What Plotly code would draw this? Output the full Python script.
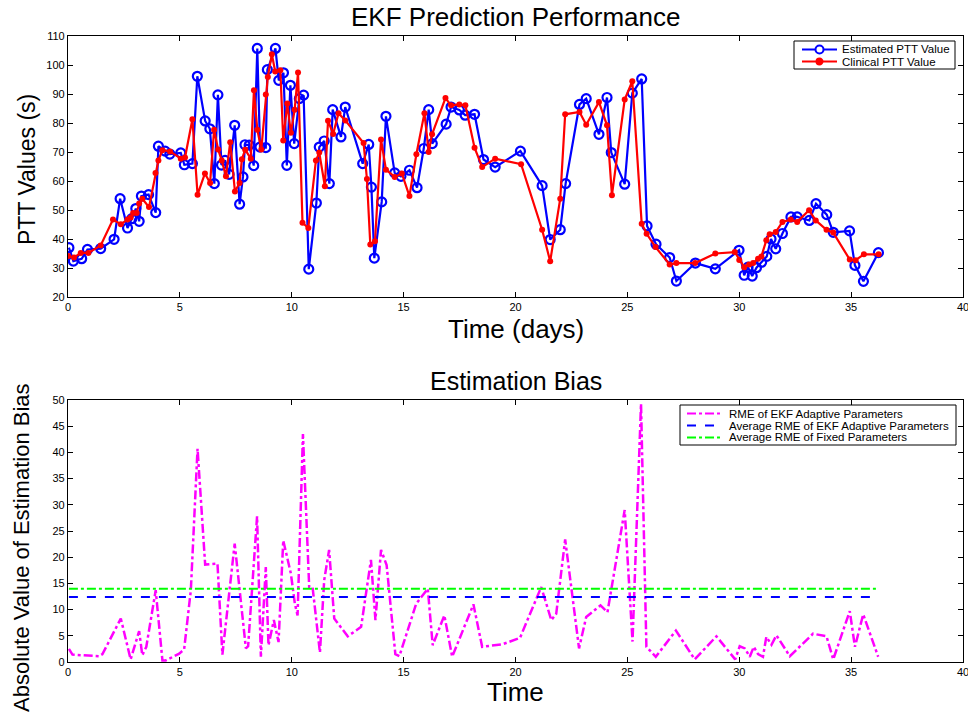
import plotly.graph_objects as go

# --- PTT estimates from the adaptive EKF (days, seconds) ---
est_time = [0.04, 0.24, 0.61, 0.87, 1.46, 2.06, 2.33, 2.66, 2.85, 3.03, 3.18, 3.28, 3.6, 3.92,
            4.04, 4.34, 4.55, 5.04, 5.2, 5.56, 5.78, 6.13, 6.34, 6.54, 6.7, 6.86, 7.02, 7.2,
            7.45, 7.67, 7.82, 7.91, 8.1, 8.3, 8.46, 8.58, 8.84, 8.91, 9.27, 9.42, 9.63, 9.78,
            9.94, 10.11, 10.34, 10.53, 10.76, 11.1, 11.23, 11.45, 11.68, 11.83, 12.2, 12.39,
            13.17, 13.44, 13.56, 13.69, 14.02, 14.21, 14.6, 14.88, 15.26, 15.6, 15.9, 16.12,
            16.28, 16.9, 17.12, 17.49, 17.75, 18.17, 18.57, 19.09, 20.22, 21.19, 21.55, 22.0,
            22.24, 22.86, 23.16, 23.73, 24.09, 24.28, 24.88, 25.22, 25.64, 25.88, 26.28, 26.89,
            27.19, 28.04, 28.93, 29.99, 30.22, 30.39, 30.58, 30.77, 31.0, 31.23, 31.42, 31.63,
            31.93, 32.31, 32.59, 33.13, 33.43, 33.91, 34.2, 34.93, 35.17, 35.55, 36.22]
est_ptt = [37.0, 32.4, 33.2, 36.4, 36.7, 39.9, 53.9, 43.8, 47.0, 50.5, 46.1, 54.8, 55.3, 49.1,
           72.0, 70.3, 69.3, 69.7, 65.6, 66.0, 96.1, 80.7, 78.0, 59.1, 89.7, 65.5, 67.1, 62.3,
           79.2, 52.0, 61.4, 72.5, 72.4, 65.3, 105.7, 71.7, 71.5, 98.4, 105.7, 94.7, 97.3, 65.4,
           93.0, 72.9, 88.4, 89.6, 29.6, 52.4, 71.7, 73.8, 59.1, 84.6, 75.2, 85.5,
           66.0, 72.6, 57.9, 33.4, 52.8, 82.3, 62.8, 61.6, 63.7, 57.7, 71.2, 84.6,
           72.9, 79.6, 85.5, 84.5, 82.7, 83.0, 67.4, 64.8, 70.3, 58.4, 39.8, 43.2,
           59.1, 86.4, 88.4, 76.1, 88.8, 69.8, 58.9, 90.3, 95.2, 44.5, 38.2, 33.6,
           25.5, 31.7, 29.7, 36.1, 27.5, 30.3, 27.2, 30.1, 32.0, 34.0, 40.0, 36.6,
           41.9, 47.6, 47.6, 46.4, 52.2, 48.4, 42.3, 42.8, 30.9, 25.4, 35.3]

# --- clinically measured PTT ---
clin_time = [0.01, 0.27, 0.57, 0.91, 1.46, 2.01, 2.36, 2.66, 2.8, 2.91, 3.07, 3.18, 3.32, 3.62,
             3.91, 4.04, 4.22, 4.56, 5.04, 5.23, 5.56, 5.79, 6.12, 6.35, 6.53, 6.71, 6.87, 7.06,
             7.25, 7.46, 7.67, 7.77, 7.92, 8.17, 8.31, 8.46, 8.64, 8.84, 8.93, 9.11, 9.26, 9.49,
             9.62, 9.8, 9.96, 10.13, 10.28, 10.48, 10.74, 11.08, 11.23, 11.48, 11.62, 11.85,
             12.09, 12.39, 13.21, 13.36, 13.51, 13.72, 13.99, 14.21, 14.6, 14.92, 15.26, 15.57,
             15.93, 16.12, 16.27, 16.87, 17.12, 17.49, 17.76, 18.17, 18.51, 19.09, 20.25, 21.19,
             21.55, 22.0, 22.22, 22.86, 23.16, 23.73, 24.09, 24.31, 24.88, 25.22, 25.64, 25.86,
             26.26, 26.89, 27.19, 28.03, 28.93, 29.8, 30.0, 30.22, 30.44, 30.62, 30.84, 30.99,
             31.21, 31.36, 31.63, 31.93, 32.3, 32.59, 33.12, 33.42, 33.9, 34.2, 34.94, 35.2,
             35.57, 36.23]
clin_ptt = [34.1, 33.6, 35.2, 35.2, 37.8, 46.7, 45.1, 46.7, 47.4, 49.0, 49.0, 52.2, 53.9, 51.0,
            62.8, 67.1, 70.6, 70.2, 67.7, 68.1, 81.3, 55.3, 62.6, 59.3, 77.7, 70.9, 67.1, 61.6,
            73.4, 56.4, 59.3, 67.5, 70.8, 67.7, 91.3, 77.7, 70.9, 89.8, 95.9, 103.7, 97.8, 98.2,
            74.0, 86.7, 76.6, 84.6, 97.4, 45.6, 43.8, 67.1, 69.8, 58.2, 80.8, 76.2,
            83.4, 80.9, 73.1, 60.7, 38.1, 39.2, 74.3, 63.9, 61.4, 62.6, 54.8, 69.2,
            83.4, 70.0, 76.1, 88.6, 86.1, 86.4, 86.1, 71.5, 64.8, 67.7, 65.8, 43.2,
            32.3, 53.9, 83.0, 83.8, 79.4, 87.2, 79.2, 55.1, 88.1, 94.4, 45.3, 41.8,
            37.2, 31.2, 31.7, 31.7, 35.0, 35.5, 32.8, 30.3, 31.2, 31.7, 33.2, 34.0,
            39.6, 41.6, 42.4, 45.9, 46.7, 45.9, 49.9, 46.4, 43.2, 42.2, 32.9, 32.7,
            34.7, 34.7]

# --- absolute estimation bias of the adaptive EKF ---
bias_time = [0.04, 0.2, 1.39, 1.54, 2.36, 2.8, 3.18, 3.32, 3.5, 3.92, 4.22, 4.37, 4.97, 5.19,
             5.49, 5.79, 6.13, 6.68, 6.9, 7.45, 7.95, 8.05, 8.45, 8.62, 8.84, 8.96, 9.2, 9.41,
             9.62, 9.96, 10.14, 10.26, 10.5, 10.78, 10.93, 11.26, 11.45, 11.67, 11.9, 12.5,
             13.1, 13.54, 13.74, 13.99, 14.24, 14.63, 14.81, 15.56, 16.08, 16.3, 16.82, 17.17,
             18.12, 18.51, 19.43, 20.2, 21.15, 21.6, 21.82, 22.22, 22.84, 23.16, 23.8, 24.11,
             24.88, 25.23, 25.61, 25.85, 26.27, 27.17, 28.01, 28.98, 29.82, 30.02, 30.25, 30.47,
             30.65, 30.84, 31.06, 31.21, 31.44, 31.66, 32.26, 33.3, 33.9, 34.2, 34.94, 35.17,
             35.54, 36.21]
bias_val = [2.5, 1.4, 1.1, 1.5, 8.3, 0.5, 5.9, 1.3, 2.9, 13.7, 0.3, 0.3, 1.6, 2.4,
            13.7, 40.7, 18.6, 18.8, 1.4, 22.6, 2.6, 3.0, 27.8, 1.0, 18.1, 3.2, 8.0, 3.8,
            23.2, 16.9, 11.1, 8.9, 43.5, 14.3, 14.3, 1.8, 15.6, 21.4, 8.3, 4.9,
            6.7, 19.5, 8.0, 21.4, 18.5, 1.5, 1.1, 11.1, 14.0, 3.2, 8.9, 1.0,
            11.0, 2.9, 3.4, 4.6, 14.3, 8.0, 9.2, 23.4, 2.6, 8.6, 10.8, 9.5,
            29.0, 3.9, 49.3, 2.9, 1.0, 6.0, 0.5, 4.9, 0.5, 3.0, 2.6, 1.0,
            2.9, 1.5, 1.0, 4.8, 3.3, 5.1, 1.1, 5.4, 4.9, 0.5, 9.7, 2.9,
            9.1, 1.0]

avg_adaptive = 12.4
avg_fixed = 14.0

FONT = "Liberation Sans, Arial, sans-serif"
W, H = 968, 722
ML, MR, MT, MB = 68, 5, 36, 60
PW, PH = W - ML - MR, H - MT - MB


def px(x):
    """Pixel column -> paper x."""
    return (x - ML) / PW


def py(y):
    """Pixel row -> paper y."""
    return (H - MB - y) / PH


BLUE, RED, MAGENTA, GREEN = "#0000ff", "#ff0000", "#ff00ff", "#00ff00"

fig = go.Figure()

fig.add_trace(go.Scatter(
    x=est_time, y=est_ptt, mode="lines+markers", name="Estimated PTT Value",
    line=dict(color=BLUE, width=2.2),
    marker=dict(symbol="circle-open", size=9, color=BLUE, line=dict(width=2.2)),
    xaxis="x", yaxis="y"))
fig.add_trace(go.Scatter(
    x=clin_time, y=clin_ptt, mode="lines+markers", name="Clinical PTT Value",
    line=dict(color=RED, width=2.2),
    marker=dict(symbol="circle", size=6, color=RED),
    xaxis="x", yaxis="y"))

fig.add_trace(go.Scatter(
    x=bias_time, y=bias_val, mode="lines", name="RME of EKF Adaptive Parameters",
    line=dict(color=MAGENTA, width=2.5, dash="dashdot"),
    xaxis="x2", yaxis="y2"))
fig.add_trace(go.Scatter(
    x=[bias_time[0], bias_time[-1]], y=[avg_adaptive, avg_adaptive], mode="lines",
    name="Average RME of EKF Adaptive Parameters",
    line=dict(color=BLUE, width=2, dash="dash"),
    xaxis="x2", yaxis="y2"))
fig.add_trace(go.Scatter(
    x=[bias_time[0], bias_time[-1]], y=[avg_fixed, avg_fixed], mode="lines",
    name="Average RME of Fixed Parameters",
    line=dict(color=GREEN, width=2, dash="dashdot"),
    xaxis="x2", yaxis="y2"))

axis_common = dict(showline=True, linecolor="black", linewidth=1.2, mirror="ticks",
                   ticks="inside", ticklen=5, tickcolor="black", showgrid=False,
                   zeroline=False, ticklabeloverflow="allow", automargin=False,
                   tickfont=dict(family=FONT, size=11, color="black"))

# Compact boxed legends (MATLAB style), built from shapes and annotations
shapes = []
annotations = []


def legend_box(x0, y0, x1, y1, rows, sample_x0, sample_x1, text_x):
    shapes.append(dict(type="rect", xref="paper", yref="paper",
                       x0=px(x0), x1=px(x1), y0=py(y1), y1=py(y0),
                       line=dict(color="black", width=1), fillcolor="white", layer="above"))
    for row_y, label, color, dash, marker in rows:
        shapes.append(dict(type="line", xref="paper", yref="paper",
                           x0=px(sample_x0), x1=px(sample_x1), y0=py(row_y), y1=py(row_y),
                           line=dict(color=color, width=2, dash=dash), layer="above"))
        if marker is not None:
            cx = (sample_x0 + sample_x1) / 2
            r, filled = marker
            shapes.append(dict(type="circle", xref="paper", yref="paper",
                               x0=px(cx - r), x1=px(cx + r), y0=py(row_y + r), y1=py(row_y - r),
                               line=dict(color=color, width=2),
                               fillcolor=color if filled else "white", layer="above"))
        annotations.append(dict(text=label, xref="paper", yref="paper",
                                x=px(text_x), y=py(row_y), xanchor="left", yanchor="middle",
                                showarrow=False,
                                font=dict(family=FONT, size=11.5, color="black")))


legend_box(794, 41, 955, 69,
           [(49.5, "Estimated PTT Value", BLUE, "solid", (4, False)),
            (61.5, "Clinical PTT Value", RED, "solid", (3, True))],
           802, 837, 840)
legend_box(680, 405, 956, 445,
           [(413.5, "RME of EKF Adaptive Parameters", MAGENTA, "dashdot", None),
            (425.5, "Average RME of EKF Adaptive Parameters", BLUE, "dash", None),
            (437.5, "Average RME of Fixed Parameters", GREEN, "dashdot", None)],
           687, 723, 727)

annotations += [
    dict(text="EKF Prediction Performance", xref="paper", yref="paper", x=0.5, y=py(17),
         showarrow=False, font=dict(size=26), xanchor="center", yanchor="middle"),
    dict(text="Time (days)", xref="paper", yref="paper", x=0.5, y=py(329),
         showarrow=False, font=dict(size=26), xanchor="center", yanchor="middle"),
    dict(text="PTT Values (s)", xref="paper", yref="paper", x=px(27), y=py(170),
         showarrow=False, font=dict(size=23), textangle=-90,
         xanchor="center", yanchor="middle"),
    dict(text="Estimation Bias", xref="paper", yref="paper", x=0.5, y=py(381),
         showarrow=False, font=dict(size=25), xanchor="center", yanchor="middle"),
    dict(text="Time", xref="paper", yref="paper", x=0.5, y=py(692),
         showarrow=False, font=dict(size=26), xanchor="center", yanchor="middle"),
    dict(text="Absolute Value of Estimation Bias", xref="paper", yref="paper",
         x=px(21), y=py(548), showarrow=False, font=dict(size=22), textangle=-90,
         xanchor="center", yanchor="middle"),
]

fig.update_layout(
    width=W, height=H, autosize=False,
    margin=dict(l=ML, r=MR, t=MT, b=MB, autoexpand=False),
    paper_bgcolor="white", plot_bgcolor="white",
    font=dict(family=FONT, color="black"),
    showlegend=False,
    xaxis=dict(domain=[0, 1], range=[0, 40], dtick=5, anchor="y", **axis_common),
    yaxis=dict(domain=[py(297), 1.0], range=[20, 110], dtick=10, anchor="x", **axis_common),
    xaxis2=dict(domain=[0, 1], range=[0, 40], dtick=5, anchor="y2", **axis_common),
    yaxis2=dict(domain=[0, py(400)], range=[0, 50], dtick=5, anchor="x2", **axis_common),
    shapes=shapes,
    annotations=annotations,
)

fig.write_html("out.html")
